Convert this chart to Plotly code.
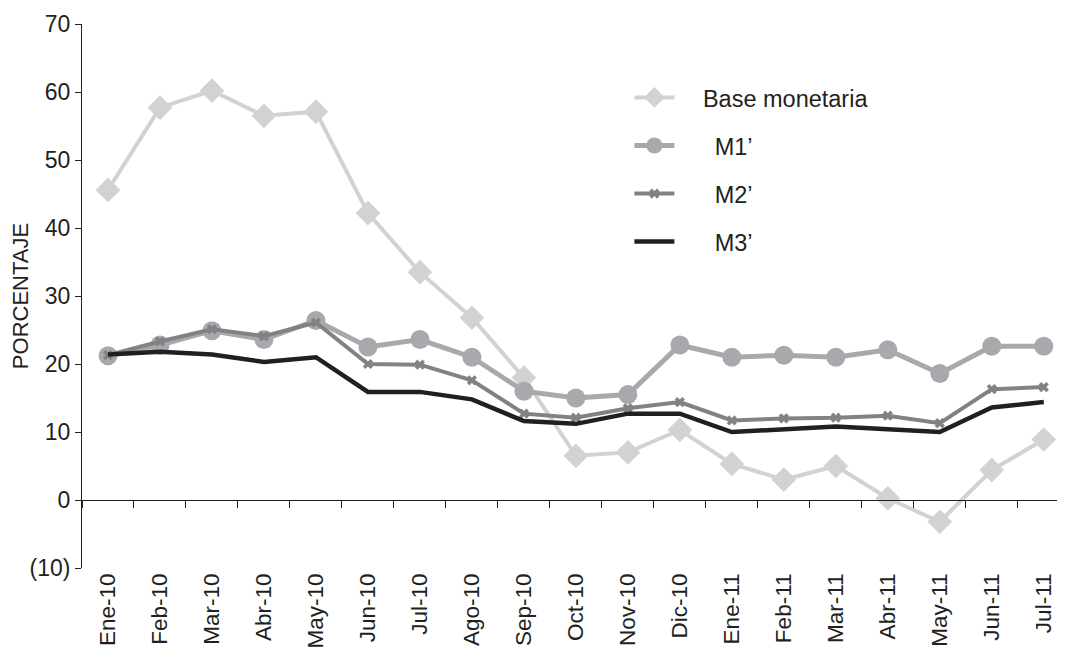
import plotly.graph_objects as go

meses = ["Ene-10", "Feb-10", "Mar-10", "Abr-10", "May-10", "Jun-10", "Jul-10", "Ago-10",
         "Sep-10", "Oct-10", "Nov-10", "Dic-10", "Ene-11", "Feb-11", "Mar-11", "Abr-11",
         "May-11", "Jun-11", "Jul-11"]

base_monetaria = [45.6, 57.7, 60.2, 56.5, 57.1, 42.2, 33.5, 26.8, 18.0, 6.5, 7.0, 10.3,
                  5.3, 3.0, 5.0, 0.25, -3.2, 4.4, 8.9]
m1 = [21.2, 22.8, 24.9, 23.6, 26.4, 22.5, 23.6, 21.0, 16.0, 15.0, 15.5, 22.8,
      21.0, 21.3, 21.0, 22.1, 18.6, 22.6, 22.6]
m2 = [21.3, 23.3, 25.1, 24.1, 26.1, 20.0, 19.9, 17.6, 12.7, 12.1, 13.5, 14.4,
      11.7, 12.0, 12.1, 12.4, 11.3, 16.3, 16.6]
m3 = [21.4, 21.8, 21.4, 20.3, 21.0, 15.9, 15.9, 14.8, 11.6, 11.2, 12.7, 12.7,
      10.0, 10.4, 10.8, 10.4, 10.0, 13.6, 14.4]

y_ticks = [-10, 0, 10, 20, 30, 40, 50, 60, 70]
y_labels = ["(10)", "0", "10", "20", "30", "40", "50", "60", "70"]

nombres = ["\u2002\u2002Base monetaria", "\u2002\u2002\u2002M1\u2019",
           "\u2002\u2002\u2002M2\u2019", "\u2002\u2002\u2002M3\u2019"]

fig = go.Figure()

fig.add_trace(go.Scatter(
    x=meses, y=base_monetaria, name=nombres[0], mode="lines+markers",
    line=dict(color="#d1d2d4", width=4),
    marker=dict(symbol="diamond", size=19, color="#d1d2d4"),
    legendgroup="a"))
fig.add_trace(go.Scatter(
    x=meses, y=m1, name=nombres[1], mode="lines+markers",
    line=dict(color="#a7a9ac", width=5),
    marker=dict(symbol="circle", size=19, color="#a7a9ac"),
    legendgroup="b"))
fig.add_trace(go.Scatter(
    x=meses, y=m2, name=nombres[2], mode="lines+markers",
    line=dict(color="#808285", width=4),
    marker=dict(symbol="x", size=9, color="#808285"),
    legendgroup="c"))
fig.add_trace(go.Scatter(
    x=meses, y=m3, name=nombres[3], mode="lines",
    line=dict(color="#231f20", width=4.5),
    legendgroup="d"))

# invisible helper trace for the axis drawn at y = 0
fig.add_trace(go.Scatter(
    x=meses, y=m3, xaxis="x2", mode="lines", line=dict(width=0),
    opacity=0, showlegend=False, hoverinfo="skip"))

xr = [-0.5, 18.37]
font = "Arial, Liberation Sans, sans-serif"

fig.update_layout(
    width=1057, height=642,
    margin=dict(l=74, r=2, t=16, b=82, autoexpand=False),
    paper_bgcolor="white", plot_bgcolor="white",
    font=dict(family=font, color="#231f20", size=22),
    showlegend=True,
    legend=dict(x=0.558, y=0.905, xanchor="left", yanchor="top",
                font=dict(size=23.5, color="#231f20"),
                itemwidth=40,
                tracegroupgap=14.5, bgcolor="rgba(0,0,0,0)"),
    xaxis=dict(type="category", categoryorder="array", categoryarray=meses,
               range=xr, showline=False, ticks="", showgrid=False, zeroline=False,
               tickangle=-90, tickfont=dict(size=22.5, color="#231f20"),
               automargin=False),
    xaxis2=dict(type="category", categoryorder="array", categoryarray=meses,
                range=xr, overlaying="x", anchor="free", position=0.125,
                showline=True, linecolor="#231f20", linewidth=1,
                ticks="outside", ticklen=7, tickcolor="#231f20", tickson="boundaries",
                showticklabels=False, showgrid=False, zeroline=False),
    yaxis=dict(range=[-10, 70], tickvals=y_ticks, ticktext=y_labels,
               showline=True, linecolor="#231f20", linewidth=1,
               ticks="outside", ticklen=6, tickcolor="#231f20",
               showgrid=False, zeroline=False, automargin=False,
               tickfont=dict(size=23, color="#231f20"),
               title=dict(text="PORCENTAJE", font=dict(size=22, color="#231f20"),
                          standoff=4)),
)

fig.write_html("out.html")
